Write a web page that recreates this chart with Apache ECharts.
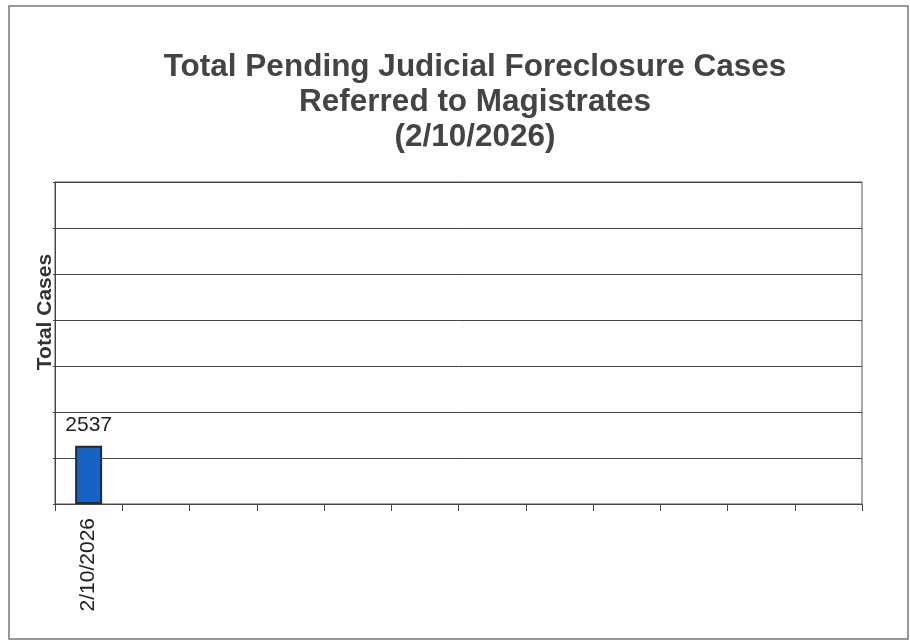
<!DOCTYPE html>
<html>
<head>
<meta charset="utf-8">
<script src="https://cdn.jsdelivr.net/npm/echarts@6/dist/echarts.min.js"></script>
<style>
  html, body { margin: 0; padding: 0; background: #fff; }
  #chart { width: 910px; height: 644px; }
</style>
</head>
<body>
<div id="chart"></div>
<script>
// categories along the x axis (only the first slot is filled)
const categories = ['2/10/2026', '', '', '', '', '', '', '', '', '', '', '']
// pending cases per date
const pendingCases = [2537, null, null, null, null, null, null, null, null, null, null, null]
// value axis range (labels hidden in the original)
const yMin = 0
const yMax = 14000
const yStep = 2000

const font = "'Liberation Sans', Arial, sans-serif"

const chart = echarts.init(document.getElementById('chart'))

chart.setOption({
  backgroundColor: '#fff',
  animation: false,
  title: {
    text: 'Total Pending Judicial Foreclosure Cases\nReferred to Magistrates\n(2/10/2026)',
    left: 470,
    top: 45,
    textAlign: 'center',
    textStyle: {
      fontFamily: font,
      fontSize: 31.5,
      fontWeight: 'bold',
      color: '#444',
      lineHeight: 35
    }
  },
  graphic: [{
    type: 'rect',
    shape: { x: 9, y: 6, width: 899, height: 633 },
    style: { fill: 'none', stroke: '#777', lineWidth: 1.5 },
    silent: true
  }],
  grid: {
    left: 55,
    right: 48,
    top: 182,
    bottom: 140,
    show: true,
    borderColor: '#555',
    borderWidth: 1
  },
  xAxis: {
    type: 'category',
    data: categories,
    axisLine: { lineStyle: { color: '#444', width: 1 } },
    axisTick: { show: true, length: 7, lineStyle: { color: '#444' } },
    axisLabel: {
      rotate: 90,
      margin: 14,
      interval: 0,
      fontFamily: font,
      fontSize: 21,
      color: '#222'
    }
  },
  yAxis: {
    type: 'value',
    min: yMin,
    max: yMax,
    interval: yStep,
    name: 'Total Cases',
    nameLocation: 'middle',
    nameGap: -1,
    nameTextStyle: {
      fontFamily: font,
      fontSize: 21,
      fontWeight: 'bold',
      color: '#333',
      padding: [0, 0, 0, 62]
    },
    axisLine: { show: true, lineStyle: { color: '#444' } },
    axisTick: { show: true, length: 2, lineStyle: { color: '#444' } },
    axisLabel: { show: false },
    splitLine: { show: true, lineStyle: { color: '#444', width: 1 } }
  },
  series: [{
    name: 'Total Cases',
    type: 'bar',
    data: pendingCases,
    barWidth: 27,
    itemStyle: {
      color: '#1762c4',
      borderColor: '#2a2a2a',
      borderWidth: 2
    },
    label: {
      show: true,
      position: 'top',
      distance: 10,
      fontFamily: font,
      fontSize: 21,
      color: '#222'
    }
  }]
})
</script>
</body>
</html>
